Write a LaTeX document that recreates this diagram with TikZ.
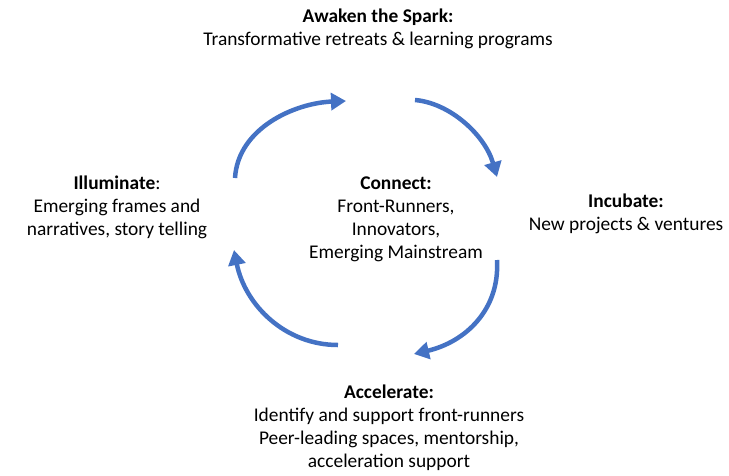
\documentclass[tikz,border=0pt]{standalone}
\usepackage{fontspec}
\setmainfont{Carlito}
\usetikzlibrary{arrows.meta}
\definecolor{cycblue}{HTML}{4472C4}
\tikzset{
  lbl/.style={align=center, inner sep=0pt, font=\fontsize{19.4}{22.9}\selectfont, text=black},
  cyc/.style={draw=cycblue, line width=4.5pt, -{Triangle[length=15pt,width=17pt]}}
}
\begin{document}
\begin{tikzpicture}[x=1pt,y=-1pt]
\useasboundingbox (0,0) rectangle (729,475);
\node[lbl] (awaken) at (378,29) {\textbf{Awaken the Spark:}\\Transformative retreats \& learning programs};
\node[lbl] (illum) at (117,207) {\textbf{Illuminate}:\\Emerging frames and\\narratives, story telling};
\node[lbl] (connect) at (396,219) {\textbf{Connect:}\\Front-Runners,\\Innovators,\\Emerging Mainstream};
\node[lbl] (incub) at (626,214) {\textbf{Incubate:}\\New projects \& ventures};
\node[lbl] (accel) at (389,428) {\textbf{Accelerate:}\\Identify and support front-runners\\Peer-leading spaces, mentorship,\\acceleration support};
\coordinate (a1s) at (235,178);
\coordinate (a1e) at (346,101);
\coordinate (a2s) at (415,100);
\coordinate (a2e) at (497,177);
\coordinate (a3s) at (497,260);
\coordinate (a3e) at (414,354);
\coordinate (a4s) at (338,345);
\coordinate (a4e) at (234,250);
\draw[cyc] (a1s) .. controls (238,128) and (295,103) .. (a1e);
\draw[cyc] (a2s) .. controls (450,103) and (485,135) .. (a2e);
\draw[cyc] (a3s) .. controls (500,310) and (465,342) .. (a3e);
\draw[cyc] (a4s) .. controls (285,345) and (245,305) .. (a4e);
\end{tikzpicture}
\end{document}
